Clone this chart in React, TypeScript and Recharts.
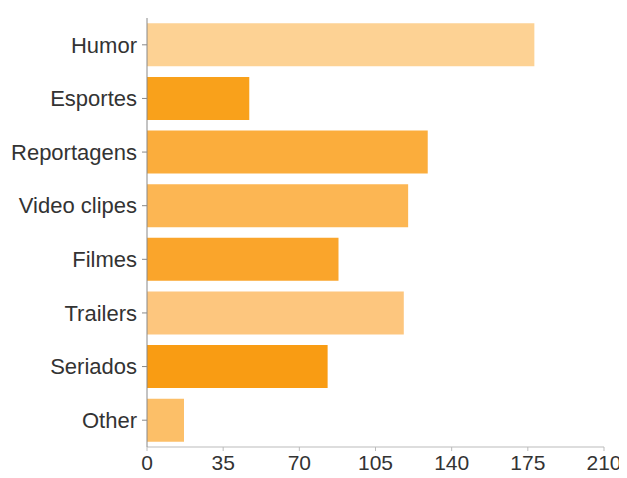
import { Bar, BarChart, Cell, XAxis, YAxis } from 'recharts';

const categories = ['Humor', 'Esportes', 'Reportagens', 'Video clipes', 'Filmes', 'Trailers', 'Seriados', 'Other'];
const counts = [178, 47, 129, 120, 88, 118, 83, 17];
const xTicks = [0, 35, 70, 105, 140, 175, 210];

const barColors = ['#fdd294', '#f9a11b', '#fbad3c', '#fcb653', '#faa52b', '#fdc67e', '#f99c13', '#fcbf68'];

const data = categories.map((name, i) => ({ name, value: counts[i] }));

const font = { fontFamily: 'Liberation Sans, Arial, sans-serif', fill: '#333' };

export default function App() {
  return (
    <div style={{ margin: -8, background: '#fff' }}>
      <BarChart
        width={627}
        height={478}
        data={data}
        layout="vertical"
        margin={{ top: 18, right: 23, bottom: 0, left: 0 }}
        barCategoryGap="10%"
      >
        <XAxis
          type="number"
          domain={[0, 210]}
          ticks={xTicks}
          height={31}
          tick={{ ...font, fontSize: 21 }}
          tickSize={4}
          tickMargin={4}
          stroke="#bbb"
          interval={0}
        />
        <YAxis
          type="category"
          dataKey="name"
          width={147}
          tick={{ ...font, fontSize: 22 }}
          tickSize={5}
          tickMargin={5}
          stroke="#888"
          interval={0}
        />
        <Bar dataKey="value" isAnimationActive={false}>
          {data.map((d, i) => (
            <Cell key={d.name} fill={barColors[i]} />
          ))}
        </Bar>
      </BarChart>
    </div>
  );
}
